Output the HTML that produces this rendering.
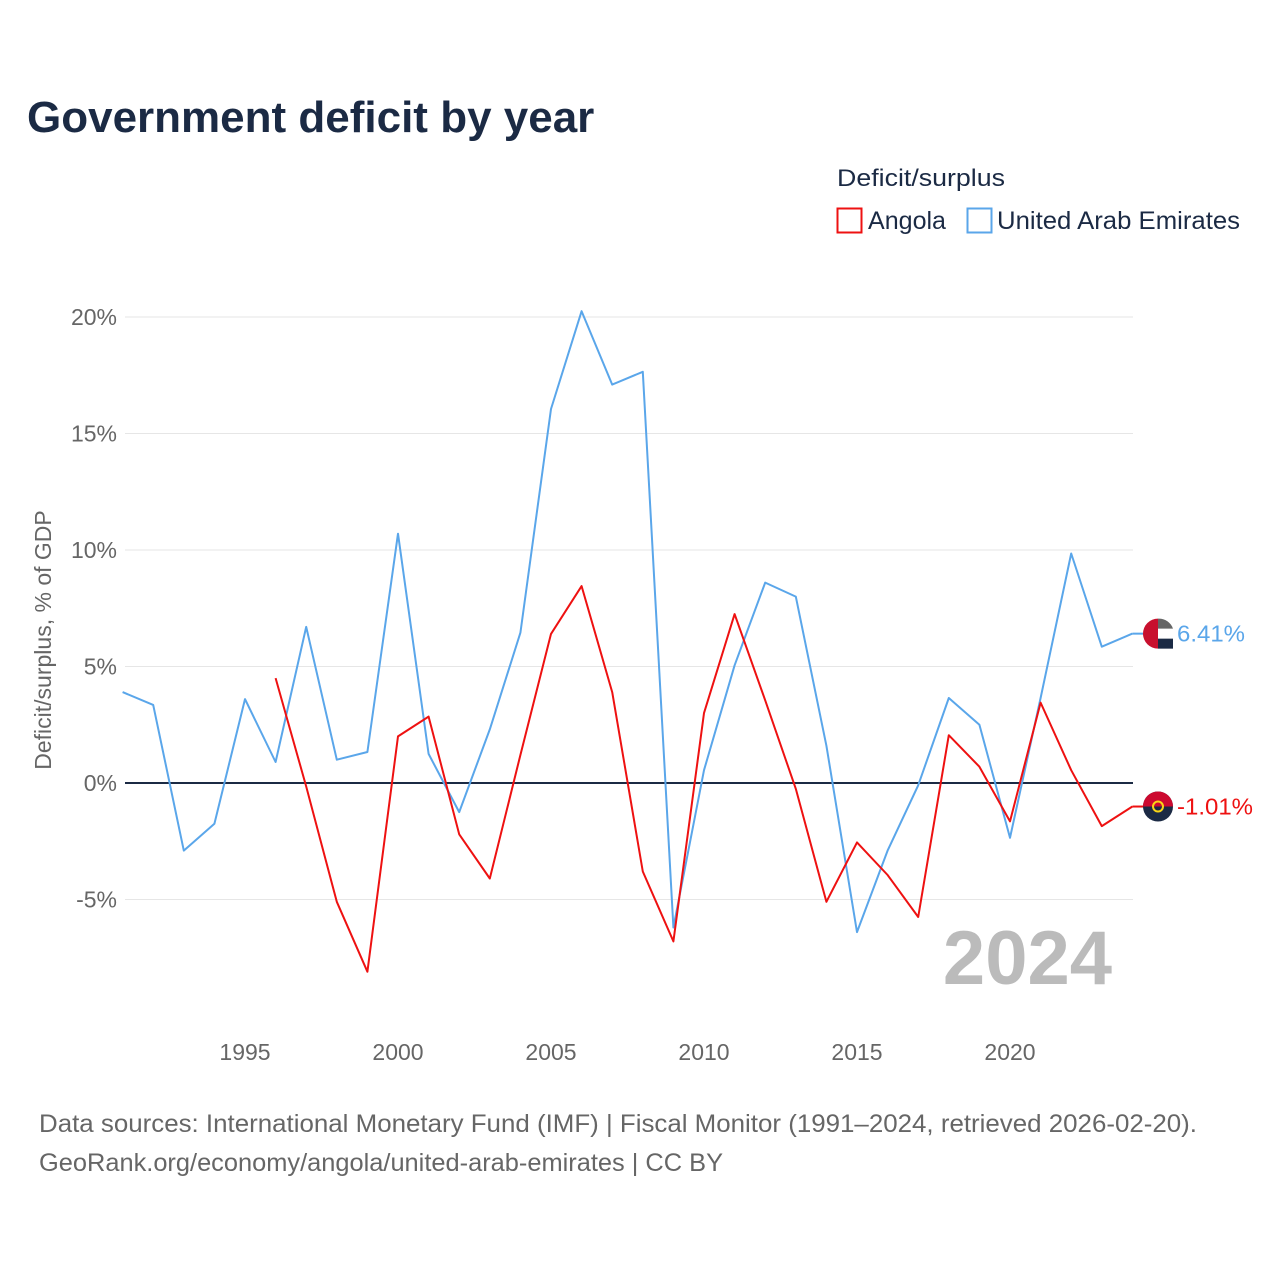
<!DOCTYPE html>
<html><head><meta charset="utf-8">
<style>
html,body{margin:0;padding:0;background:#fff;}
body{width:1280px;height:1280px;position:relative;font-family:"Liberation Sans",sans-serif;}
</style></head>
<body>
<svg id="chart" width="1280" height="1280" xmlns="http://www.w3.org/2000/svg" style="position:absolute;left:0;top:0">
<text x="27" y="132" font-size="44" font-weight="bold" fill="#1b2a44">Government deficit by year</text>
<text x="837" y="186" font-size="24" fill="#1b2a44" textLength="168" lengthAdjust="spacingAndGlyphs">Deficit/surplus</text>
<g>
<rect x="837.5" y="208.5" width="24" height="24" fill="none" stroke="#ee1111" stroke-width="2"/>
<text x="868" y="229" font-size="25" fill="#1b2a44" textLength="78" lengthAdjust="spacingAndGlyphs">Angola</text></g>
<g>
<rect x="967.5" y="208.5" width="24" height="24" fill="none" stroke="#5aa6ea" stroke-width="2"/>
<text x="997" y="229" font-size="25" fill="#1b2a44" textLength="243" lengthAdjust="spacingAndGlyphs">United Arab Emirates</text></g>
<g id="grid"></g>
<g id="yticks"></g>
<g id="xticks"></g>
<text transform="translate(51,640) rotate(-90)" text-anchor="middle" font-size="23" fill="#666">Deficit/surplus, % of GDP</text>
<text x="1112" y="984" text-anchor="end" font-size="76" font-weight="bold" fill="#bbb">2024</text>
<g id="series"></g>
<text x="39" y="1132" font-size="25" fill="#666" textLength="1158" lengthAdjust="spacingAndGlyphs">Data sources: International Monetary Fund (IMF) | Fiscal Monitor (1991–2024, retrieved 2026-02-20).</text>
<text x="39" y="1171" font-size="25" fill="#666" textLength="684" lengthAdjust="spacingAndGlyphs">GeoRank.org/economy/angola/united-arab-emirates | CC BY</text>
</svg>
<script>
const uaeYears=[1991,1992,1993,1994,1995,1996,1997,1998,1999,2000,2001,2002,2003,2004,2005,2006,2007,2008,2009,2010,2011,2012,2013,2014,2015,2016,2017,2018,2019,2020,2021,2022,2023,2024];
const uaeValues=[3.9,3.35,-2.9,-1.75,3.6,0.9,6.7,1.0,1.33,10.7,1.25,-1.25,2.3,6.45,16.05,20.25,17.1,17.65,-6.2,0.55,5.05,8.6,8.0,1.6,-6.4,-2.9,-0.1,3.65,2.5,-2.35,3.65,9.85,5.85,6.41];
const angolaYears=[1996,1997,1998,1999,2000,2001,2002,2003,2004,2005,2006,2007,2008,2009,2010,2011,2012,2013,2014,2015,2016,2017,2018,2019,2020,2021,2022,2023,2024];
const angolaValues=[4.5,-0.15,-5.1,-8.1,2.0,2.85,-2.2,-4.1,1.2,6.4,8.45,3.9,-3.8,-6.8,3.0,7.25,3.55,-0.25,-5.1,-2.55,-3.95,-5.75,2.05,0.7,-1.65,3.45,0.55,-1.85,-1.01];
const yTicks=[-5,0,5,10,15,20];
const xTicks=[1995,2000,2005,2010,2015,2020];

const NS="http://www.w3.org/2000/svg";
const X0=122.6,PX=30.6,Y0=783,PY=23.3;
const xs=y=>X0+(y-1991)*PX;
const ys=v=>Y0-v*PY;
function mk(tag,attrs,parent,txt){const e=document.createElementNS(NS,tag);for(const k in attrs)e.setAttribute(k,attrs[k]);if(txt!==undefined)e.textContent=txt;parent.appendChild(e);return e;}
const grid=document.getElementById('grid'),yt=document.getElementById('yticks'),xt=document.getElementById('xticks'),ser=document.getElementById('series');
yTicks.forEach(t=>{
 const l=mk('line',{x1:125,x2:1133,y1:ys(t),y2:ys(t),stroke:t===0?'#1b2a44':'#e6e6e6','stroke-width':t===0?2:1},grid);
 
 
 const tx=mk('text',{x:117,y:ys(t)+8,'text-anchor':'end','font-size':23,fill:'#666'},yt,t+'%');
 
 
});
xTicks.forEach(t=>{
 const tx=mk('text',{x:xs(t),y:1060,'text-anchor':'middle','font-size':23,fill:'#666'},xt,String(t));
 
 
});
function line(yrs,vals,color,name){
 const d=yrs.map((y,i)=>(i?'L':'M')+xs(y).toFixed(1)+','+ys(vals[i]).toFixed(1)).join('');
 const p=mk('path',{d:d,fill:'none',stroke:color,'stroke-width':2,'stroke-linejoin':'round'},ser);
 
 
}
line(uaeYears,uaeValues,'#5aa6ea','uae-line');
line(angolaYears,angolaValues,'#ee1111','angola-line');
function endLabel(yrs,vals,color,name,flag,len){
 const v=vals[vals.length-1],x=xs(yrs[yrs.length-1]),y=ys(v);
 mk('line',{x1:x,x2:x+12,y1:y,y2:y,stroke:color,'stroke-width':2},ser);
 const g=mk('g',{},ser);
 
 
 if(flag==='uae'){
  mk('circle',{cx:1158,cy:y,r:15,fill:'#fff'},g);
  mk('path',{d:`M1158,${y-15}A15,15 0 0 1 1173,${y-5}L1158,${y-5}Z`,fill:'#666'},g);
  mk('rect',{x:1158,y:y+5,width:15,height:10,fill:'#1b2a44'},g);
  mk('path',{d:`M1158,${y-15}A15,15 0 0 0 1158,${y+15}Z`,fill:'#c8102e'},g);
 }else{
  mk('circle',{cx:1158,cy:y,r:15,fill:'#1b2a44'},g);
  mk('path',{d:`M1143,${y}A15,15 0 0 1 1173,${y}Z`,fill:'#cc092f'},g);
  mk('circle',{cx:1158,cy:y,r:5,fill:'none',stroke:'#f9d616','stroke-width':2},g);
 }
 const t=mk('text',{x:1177,y:y+8,'font-size':23,fill:color,textLength:len,lengthAdjust:'spacingAndGlyphs'},ser,v.toFixed(2)+'%');
 
 
}
endLabel(uaeYears,uaeValues,'#5aa6ea','uae','uae',68);
endLabel(angolaYears,angolaValues,'#ee1111','angola','angola',76);
</script>
</body></html>
